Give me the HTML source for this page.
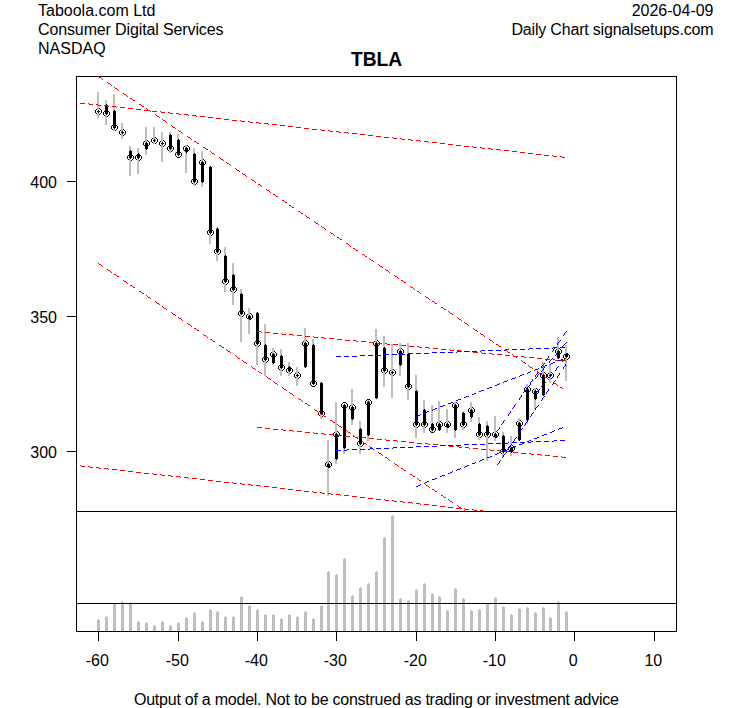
<!DOCTYPE html>
<html><head><meta charset="utf-8"><title>TBLA</title>
<style>
html,body{margin:0;padding:0;background:#fff;}
body{width:753px;height:708px;overflow:hidden;font-family:"Liberation Sans",sans-serif;}
svg{display:block;}
</style></head><body>
<svg width="753" height="708" viewBox="0 0 753 708" shape-rendering="crispEdges">
<defs><clipPath id="cm"><rect x="76" y="76" width="601" height="436"/></clipPath><clipPath id="cv"><rect x="77" y="512" width="599" height="119"/></clipPath><path id="ring" d="M2 0h3v1h-3zM1 1h1v1h-1zM5 1h1v1h-1zM0 2h1v3h-1zM6 2h1v3h-1zM1 5h1v1h-1zM5 5h1v1h-1zM2 6h3v1h-3z"/><path id="dot" d="M1 0h1v3h-1zM0 1h1v1h-1zM2 1h1v1h-1z"/></defs>
<rect x="76.5" y="76.5" width="600" height="435" fill="none" stroke="#000"/>
<g fill="#000">
<use href="#ring" x="95" y="108"/>
<use href="#ring" x="103" y="110"/>
<use href="#ring" x="111" y="124"/>
<use href="#ring" x="119" y="129"/>
<use href="#ring" x="127" y="154"/>
<use href="#ring" x="135" y="154"/>
<use href="#ring" x="143" y="140"/>
<use href="#ring" x="151" y="137"/>
<use href="#ring" x="159" y="140"/>
<use href="#ring" x="167" y="145"/>
<use href="#ring" x="175" y="151"/>
<use href="#ring" x="183" y="145"/>
<use href="#ring" x="191" y="178"/>
<use href="#ring" x="199" y="159"/>
<use href="#ring" x="207" y="229"/>
<use href="#ring" x="214" y="248"/>
<use href="#ring" x="222" y="278"/>
<use href="#ring" x="230" y="286"/>
<use href="#ring" x="238" y="310"/>
<use href="#ring" x="246" y="313"/>
<use href="#ring" x="254" y="340"/>
<use href="#ring" x="262" y="356"/>
<use href="#ring" x="270" y="351"/>
<use href="#ring" x="278" y="364"/>
<use href="#ring" x="286" y="367"/>
<use href="#ring" x="294" y="372"/>
<use href="#ring" x="302" y="340"/>
<use href="#ring" x="310" y="380"/>
<use href="#ring" x="318" y="410"/>
<use href="#ring" x="325" y="461"/>
<use href="#ring" x="333" y="431"/>
<use href="#ring" x="341" y="402"/>
<use href="#ring" x="349" y="404"/>
<use href="#ring" x="357" y="440"/>
<use href="#ring" x="365" y="399"/>
<use href="#ring" x="373" y="340"/>
<use href="#ring" x="381" y="367"/>
<use href="#ring" x="389" y="369"/>
<use href="#ring" x="397" y="348"/>
<use href="#ring" x="405" y="383"/>
<use href="#ring" x="413" y="421"/>
<use href="#ring" x="421" y="421"/>
<use href="#ring" x="429" y="426"/>
<use href="#ring" x="436" y="421"/>
<use href="#ring" x="444" y="421"/>
<use href="#ring" x="452" y="402"/>
<use href="#ring" x="460" y="421"/>
<use href="#ring" x="468" y="407"/>
<use href="#ring" x="476" y="431"/>
<use href="#ring" x="484" y="431"/>
<use href="#ring" x="492" y="431"/>
<use href="#ring" x="500" y="448"/>
<use href="#ring" x="508" y="445"/>
<use href="#ring" x="516" y="420"/>
<use href="#ring" x="524" y="386"/>
<use href="#ring" x="532" y="388"/>
<use href="#ring" x="540" y="372"/>
<use href="#ring" x="547" y="372"/>
<use href="#ring" x="555" y="348"/>
<use href="#ring" x="563" y="353"/>
</g>
<g fill="#bebebe">
<rect x="97" y="92" width="2" height="26"/>
<rect x="105" y="100" width="2" height="25"/>
<rect x="113" y="94" width="2" height="37"/>
<rect x="121" y="123" width="2" height="16"/>
<rect x="129" y="146" width="2" height="30"/>
<rect x="137" y="148" width="2" height="26"/>
<rect x="145" y="127" width="2" height="28"/>
<rect x="153" y="127" width="2" height="17"/>
<rect x="161" y="132" width="2" height="30"/>
<rect x="169" y="132" width="2" height="21"/>
<rect x="177" y="134" width="2" height="21"/>
<rect x="185" y="145" width="2" height="28"/>
<rect x="193" y="148" width="2" height="38"/>
<rect x="201" y="151" width="2" height="36"/>
<rect x="209" y="166" width="2" height="78"/>
<rect x="216" y="227" width="2" height="34"/>
<rect x="224" y="247" width="2" height="45"/>
<rect x="232" y="263" width="2" height="42"/>
<rect x="240" y="289" width="2" height="53"/>
<rect x="248" y="308" width="2" height="26"/>
<rect x="256" y="312" width="2" height="53"/>
<rect x="264" y="324" width="2" height="52"/>
<rect x="272" y="348" width="2" height="17"/>
<rect x="280" y="349" width="2" height="27"/>
<rect x="288" y="362" width="2" height="14"/>
<rect x="296" y="367" width="2" height="19"/>
<rect x="304" y="328" width="2" height="40"/>
<rect x="312" y="339" width="2" height="45"/>
<rect x="320" y="382" width="2" height="37"/>
<rect x="327" y="440" width="2" height="56"/>
<rect x="335" y="402" width="2" height="62"/>
<rect x="343" y="405" width="2" height="49"/>
<rect x="351" y="389" width="2" height="36"/>
<rect x="359" y="421" width="2" height="33"/>
<rect x="367" y="400" width="2" height="41"/>
<rect x="375" y="329" width="2" height="70"/>
<rect x="383" y="336" width="2" height="51"/>
<rect x="391" y="344" width="2" height="54"/>
<rect x="399" y="343" width="2" height="33"/>
<rect x="407" y="343" width="2" height="57"/>
<rect x="415" y="375" width="2" height="63"/>
<rect x="423" y="400" width="2" height="33"/>
<rect x="431" y="405" width="2" height="27"/>
<rect x="438" y="401" width="2" height="30"/>
<rect x="446" y="409" width="2" height="24"/>
<rect x="454" y="402" width="2" height="36"/>
<rect x="462" y="412" width="2" height="18"/>
<rect x="470" y="402" width="2" height="20"/>
<rect x="478" y="417" width="2" height="23"/>
<rect x="486" y="421" width="2" height="40"/>
<rect x="494" y="416" width="2" height="25"/>
<rect x="502" y="432" width="2" height="25"/>
<rect x="510" y="436" width="2" height="20"/>
<rect x="518" y="418" width="2" height="23"/>
<rect x="526" y="384" width="2" height="40"/>
<rect x="534" y="388" width="2" height="21"/>
<rect x="542" y="362" width="2" height="34"/>
<rect x="549" y="364" width="2" height="19"/>
<rect x="557" y="337" width="2" height="22"/>
<rect x="565" y="345" width="2" height="36"/>
</g>
<g fill="#000">
<use href="#dot" x="97" y="110"/>
<rect x="105" y="105" width="3" height="9"/>
<rect x="106" y="104" width="1" height="1"/>
<rect x="106" y="114" width="1" height="1"/>
<rect x="113" y="111" width="3" height="17"/>
<rect x="114" y="110" width="1" height="1"/>
<rect x="114" y="128" width="1" height="1"/>
<use href="#dot" x="121" y="131"/>
<rect x="129" y="151" width="3" height="7"/>
<rect x="130" y="150" width="1" height="1"/>
<rect x="130" y="158" width="1" height="1"/>
<rect x="137" y="154" width="3" height="4"/>
<rect x="138" y="153" width="1" height="1"/>
<rect x="138" y="158" width="1" height="1"/>
<rect x="145" y="143" width="3" height="6"/>
<rect x="146" y="149" width="1" height="1"/>
<rect x="146" y="142" width="1" height="1"/>
<use href="#dot" x="153" y="139"/>
<use href="#dot" x="161" y="142"/>
<rect x="169" y="135" width="3" height="14"/>
<rect x="170" y="134" width="1" height="1"/>
<rect x="170" y="149" width="1" height="1"/>
<rect x="177" y="140" width="3" height="15"/>
<rect x="178" y="139" width="1" height="1"/>
<rect x="178" y="155" width="1" height="1"/>
<rect x="185" y="148" width="3" height="4"/>
<rect x="186" y="152" width="1" height="1"/>
<rect x="186" y="147" width="1" height="1"/>
<rect x="193" y="154" width="3" height="28"/>
<rect x="194" y="153" width="1" height="1"/>
<rect x="194" y="182" width="1" height="1"/>
<rect x="201" y="162" width="3" height="20"/>
<rect x="202" y="182" width="1" height="1"/>
<rect x="202" y="161" width="1" height="1"/>
<rect x="209" y="167" width="3" height="66"/>
<rect x="210" y="166" width="1" height="1"/>
<rect x="210" y="233" width="1" height="1"/>
<rect x="216" y="229" width="3" height="23"/>
<rect x="217" y="228" width="1" height="1"/>
<rect x="217" y="252" width="1" height="1"/>
<rect x="224" y="256" width="3" height="26"/>
<rect x="225" y="255" width="1" height="1"/>
<rect x="225" y="282" width="1" height="1"/>
<rect x="232" y="275" width="3" height="15"/>
<rect x="233" y="274" width="1" height="1"/>
<rect x="233" y="290" width="1" height="1"/>
<rect x="240" y="294" width="3" height="20"/>
<rect x="241" y="293" width="1" height="1"/>
<rect x="241" y="314" width="1" height="1"/>
<rect x="248" y="316" width="3" height="3"/>
<rect x="249" y="319" width="1" height="1"/>
<rect x="249" y="315" width="1" height="1"/>
<rect x="256" y="313" width="3" height="31"/>
<rect x="257" y="312" width="1" height="1"/>
<rect x="257" y="344" width="1" height="1"/>
<rect x="264" y="345" width="3" height="15"/>
<rect x="265" y="344" width="1" height="1"/>
<rect x="265" y="360" width="1" height="1"/>
<rect x="272" y="354" width="3" height="9"/>
<rect x="273" y="363" width="1" height="1"/>
<rect x="273" y="353" width="1" height="1"/>
<rect x="280" y="356" width="3" height="12"/>
<rect x="281" y="355" width="1" height="1"/>
<rect x="281" y="368" width="1" height="1"/>
<rect x="288" y="367" width="3" height="4"/>
<rect x="289" y="366" width="1" height="1"/>
<rect x="289" y="371" width="1" height="1"/>
<use href="#dot" x="296" y="374"/>
<rect x="304" y="343" width="3" height="24"/>
<rect x="305" y="367" width="1" height="1"/>
<rect x="305" y="342" width="1" height="1"/>
<rect x="312" y="345" width="3" height="39"/>
<rect x="313" y="344" width="1" height="1"/>
<rect x="313" y="384" width="1" height="1"/>
<rect x="320" y="383" width="3" height="31"/>
<rect x="321" y="382" width="1" height="1"/>
<rect x="321" y="414" width="1" height="1"/>
<rect x="327" y="464" width="3" height="3"/>
<rect x="328" y="467" width="1" height="1"/>
<rect x="328" y="463" width="1" height="1"/>
<rect x="335" y="434" width="3" height="25"/>
<rect x="336" y="459" width="1" height="1"/>
<rect x="336" y="433" width="1" height="1"/>
<rect x="343" y="405" width="3" height="43"/>
<rect x="344" y="448" width="1" height="1"/>
<rect x="344" y="404" width="1" height="1"/>
<rect x="351" y="407" width="3" height="12"/>
<rect x="352" y="419" width="1" height="1"/>
<rect x="352" y="406" width="1" height="1"/>
<rect x="359" y="429" width="3" height="15"/>
<rect x="360" y="428" width="1" height="1"/>
<rect x="360" y="444" width="1" height="1"/>
<rect x="367" y="402" width="3" height="33"/>
<rect x="368" y="435" width="1" height="1"/>
<rect x="368" y="401" width="1" height="1"/>
<rect x="375" y="343" width="3" height="55"/>
<rect x="376" y="398" width="1" height="1"/>
<rect x="376" y="342" width="1" height="1"/>
<rect x="383" y="348" width="3" height="23"/>
<rect x="384" y="347" width="1" height="1"/>
<rect x="384" y="371" width="1" height="1"/>
<use href="#dot" x="391" y="371"/>
<rect x="399" y="351" width="3" height="14"/>
<rect x="400" y="365" width="1" height="1"/>
<rect x="400" y="350" width="1" height="1"/>
<rect x="407" y="354" width="3" height="33"/>
<rect x="408" y="353" width="1" height="1"/>
<rect x="408" y="387" width="1" height="1"/>
<rect x="415" y="391" width="3" height="34"/>
<rect x="416" y="390" width="1" height="1"/>
<rect x="416" y="425" width="1" height="1"/>
<rect x="423" y="410" width="3" height="15"/>
<rect x="424" y="409" width="1" height="1"/>
<rect x="424" y="425" width="1" height="1"/>
<rect x="431" y="424" width="3" height="6"/>
<rect x="432" y="423" width="1" height="1"/>
<rect x="432" y="430" width="1" height="1"/>
<rect x="438" y="424" width="3" height="6"/>
<rect x="439" y="430" width="1" height="1"/>
<rect x="439" y="423" width="1" height="1"/>
<rect x="446" y="424" width="3" height="3"/>
<rect x="447" y="427" width="1" height="1"/>
<rect x="447" y="423" width="1" height="1"/>
<rect x="454" y="405" width="3" height="25"/>
<rect x="455" y="430" width="1" height="1"/>
<rect x="455" y="404" width="1" height="1"/>
<rect x="462" y="413" width="3" height="12"/>
<rect x="463" y="412" width="1" height="1"/>
<rect x="463" y="425" width="1" height="1"/>
<rect x="470" y="410" width="3" height="7"/>
<rect x="471" y="417" width="1" height="1"/>
<rect x="471" y="409" width="1" height="1"/>
<rect x="478" y="424" width="3" height="11"/>
<rect x="479" y="423" width="1" height="1"/>
<rect x="479" y="435" width="1" height="1"/>
<rect x="486" y="426" width="3" height="9"/>
<rect x="487" y="425" width="1" height="1"/>
<rect x="487" y="435" width="1" height="1"/>
<rect x="494" y="434" width="3" height="3"/>
<rect x="495" y="437" width="1" height="1"/>
<rect x="495" y="433" width="1" height="1"/>
<rect x="502" y="436" width="3" height="16"/>
<rect x="503" y="435" width="1" height="1"/>
<rect x="503" y="452" width="1" height="1"/>
<rect x="510" y="448" width="3" height="4"/>
<rect x="511" y="452" width="1" height="1"/>
<rect x="511" y="447" width="1" height="1"/>
<rect x="518" y="423" width="3" height="17"/>
<rect x="519" y="440" width="1" height="1"/>
<rect x="519" y="422" width="1" height="1"/>
<rect x="526" y="389" width="3" height="31"/>
<rect x="527" y="420" width="1" height="1"/>
<rect x="527" y="388" width="1" height="1"/>
<rect x="534" y="391" width="3" height="8"/>
<rect x="535" y="399" width="1" height="1"/>
<rect x="535" y="390" width="1" height="1"/>
<rect x="542" y="375" width="3" height="20"/>
<rect x="543" y="395" width="1" height="1"/>
<rect x="543" y="374" width="1" height="1"/>
<use href="#dot" x="549" y="374"/>
<rect x="557" y="351" width="3" height="7"/>
<rect x="558" y="358" width="1" height="1"/>
<rect x="558" y="350" width="1" height="1"/>
<rect x="565" y="354" width="3" height="3"/>
<rect x="566" y="353" width="1" height="1"/>
<rect x="566" y="357" width="1" height="1"/>
</g>
<path fill="#ff0000" d="M98 76h1v1h-1zM99 77h2v1h-2zM101 78h1v1h-1zM102 79h1v1h-1zM107 82h1v1h-1zM108 83h2v1h-2zM110 84h1v1h-1zM111 85h1v1h-1zM114 87h1v1h-1zM115 88h2v1h-2zM117 89h1v1h-1zM118 90h1v1h-1zM123 93h1v1h-1zM124 94h2v1h-2zM126 95h1v1h-1zM127 96h1v1h-1zM130 98h2v1h-2zM132 99h1v1h-1zM133 100h2v1h-2zM76 102h1v1h-1zM80 103h5v1h-5zM88 103h1v1h-1zM89 104h4v1h-4zM96 104h2v1h-2zM139 104h2v1h-2zM98 105h3v1h-3zM104 105h3v1h-3zM141 105h1v1h-1zM107 106h2v1h-2zM112 106h4v1h-4zM142 106h2v1h-2zM116 107h1v1h-1zM120 107h5v1h-5zM128 108h5v1h-5zM146 108h1v1h-1zM136 109h5v1h-5zM147 109h1v1h-1zM144 110h6v1h-6zM150 111h1v1h-1zM152 111h5v1h-5zM160 111h1v1h-1zM161 112h4v1h-4zM168 112h2v1h-2zM170 113h3v1h-3zM176 113h3v1h-3zM155 114h1v1h-1zM179 114h2v1h-2zM184 114h4v1h-4zM156 115h1v1h-1zM188 115h1v1h-1zM192 115h4v1h-4zM157 116h2v1h-2zM196 116h1v1h-1zM200 116h5v1h-5zM159 117h1v1h-1zM208 117h5v1h-5zM216 118h5v1h-5zM162 119h1v1h-1zM224 119h5v1h-5zM163 120h2v1h-2zM232 120h5v1h-5zM240 120h1v1h-1zM165 121h1v1h-1zM241 121h4v1h-4zM248 121h2v1h-2zM166 122h1v1h-1zM250 122h3v1h-3zM256 122h3v1h-3zM259 123h2v1h-2zM264 123h4v1h-4zM268 124h1v1h-1zM272 124h5v1h-5zM171 125h1v1h-1zM280 125h5v1h-5zM172 126h1v1h-1zM288 126h5v1h-5zM173 127h2v1h-2zM296 127h5v1h-5zM175 128h1v1h-1zM304 128h5v1h-5zM312 129h5v1h-5zM320 129h1v1h-1zM178 130h1v1h-1zM321 130h4v1h-4zM328 130h2v1h-2zM179 131h2v1h-2zM330 131h3v1h-3zM336 131h3v1h-3zM181 132h1v1h-1zM339 132h2v1h-2zM344 132h4v1h-4zM182 133h1v1h-1zM348 133h1v1h-1zM352 133h5v1h-5zM360 134h5v1h-5zM368 135h5v1h-5zM187 136h1v1h-1zM376 136h5v1h-5zM188 137h2v1h-2zM384 137h5v1h-5zM392 137h1v1h-1zM190 138h1v1h-1zM393 138h4v1h-4zM400 138h2v1h-2zM191 139h1v1h-1zM402 139h3v1h-3zM408 139h3v1h-3zM411 140h2v1h-2zM416 140h4v1h-4zM194 141h2v1h-2zM420 141h1v1h-1zM424 141h4v1h-4zM196 142h1v1h-1zM428 142h1v1h-1zM432 142h5v1h-5zM197 143h2v1h-2zM440 143h5v1h-5zM448 144h5v1h-5zM456 145h5v1h-5zM464 146h5v1h-5zM472 146h1v1h-1zM203 147h2v1h-2zM473 147h4v1h-4zM480 147h2v1h-2zM205 148h1v1h-1zM482 148h3v1h-3zM488 148h3v1h-3zM206 149h2v1h-2zM491 149h2v1h-2zM496 149h4v1h-4zM500 150h1v1h-1zM504 150h5v1h-5zM210 151h1v1h-1zM512 151h5v1h-5zM211 152h1v1h-1zM520 152h5v1h-5zM212 153h2v1h-2zM528 153h5v1h-5zM214 154h1v1h-1zM536 154h5v1h-5zM544 155h5v1h-5zM552 155h1v1h-1zM553 156h4v1h-4zM560 156h2v1h-2zM219 157h1v1h-1zM562 157h3v1h-3zM220 158h1v1h-1zM221 159h2v1h-2zM223 160h1v1h-1zM226 162h1v1h-1zM227 163h2v1h-2zM229 164h1v1h-1zM230 165h1v1h-1zM235 168h1v1h-1zM236 169h1v1h-1zM237 170h2v1h-2zM239 171h1v1h-1zM242 173h1v1h-1zM243 174h2v1h-2zM245 175h1v1h-1zM246 176h1v1h-1zM251 179h1v1h-1zM252 180h2v1h-2zM254 181h1v1h-1zM255 182h1v1h-1zM258 184h2v1h-2zM260 185h1v1h-1zM261 186h1v1h-1zM266 189h1v1h-1zM267 190h2v1h-2zM269 191h1v1h-1zM270 192h1v1h-1zM273 194h2v1h-2zM275 195h1v1h-1zM276 196h2v1h-2zM282 200h2v1h-2zM284 201h1v1h-1zM285 202h2v1h-2zM289 205h2v1h-2zM291 206h1v1h-1zM292 207h2v1h-2zM298 211h2v1h-2zM300 212h1v1h-1zM301 213h2v1h-2zM305 215h1v1h-1zM306 216h1v1h-1zM307 217h2v1h-2zM309 218h1v1h-1zM314 221h1v1h-1zM315 222h1v1h-1zM316 223h2v1h-2zM318 224h1v1h-1zM321 226h1v1h-1zM322 227h2v1h-2zM324 228h1v1h-1zM325 229h1v1h-1zM330 232h1v1h-1zM331 233h2v1h-2zM333 234h1v1h-1zM334 235h1v1h-1zM337 237h2v1h-2zM339 238h1v1h-1zM340 239h2v1h-2zM346 243h2v1h-2zM348 244h1v1h-1zM349 245h1v1h-1zM350 246h1v1h-1zM353 248h2v1h-2zM355 249h1v1h-1zM356 250h2v1h-2zM362 254h2v1h-2zM364 255h1v1h-1zM365 256h2v1h-2zM369 258h1v1h-1zM370 259h1v1h-1zM371 260h2v1h-2zM373 261h1v1h-1zM98 263h1v1h-1zM99 264h2v1h-2zM378 264h1v1h-1zM101 265h1v1h-1zM379 265h1v1h-1zM102 266h1v1h-1zM380 266h2v1h-2zM382 267h1v1h-1zM107 269h1v1h-1zM385 269h1v1h-1zM108 270h2v1h-2zM386 270h2v1h-2zM110 271h1v1h-1zM388 271h1v1h-1zM111 272h1v1h-1zM389 272h1v1h-1zM114 274h2v1h-2zM116 275h1v1h-1zM394 275h1v1h-1zM117 276h2v1h-2zM395 276h2v1h-2zM397 277h1v1h-1zM398 278h1v1h-1zM123 280h1v1h-1zM401 280h2v1h-2zM124 281h2v1h-2zM403 281h1v1h-1zM126 282h1v1h-1zM404 282h2v1h-2zM127 283h1v1h-1zM130 285h2v1h-2zM132 286h1v1h-1zM410 286h1v1h-1zM133 287h2v1h-2zM411 287h2v1h-2zM413 288h1v1h-1zM414 289h1v1h-1zM139 291h2v1h-2zM417 291h2v1h-2zM141 292h1v1h-1zM419 292h1v1h-1zM142 293h2v1h-2zM420 293h1v1h-1zM146 295h1v1h-1zM147 296h1v1h-1zM425 296h1v1h-1zM148 297h2v1h-2zM426 297h2v1h-2zM150 298h1v1h-1zM428 298h1v1h-1zM429 299h1v1h-1zM155 301h1v1h-1zM432 301h2v1h-2zM156 302h1v1h-1zM434 302h1v1h-1zM157 303h2v1h-2zM435 303h2v1h-2zM159 304h1v1h-1zM162 306h1v1h-1zM163 307h1v1h-1zM441 307h2v1h-2zM164 308h2v1h-2zM443 308h1v1h-1zM166 309h1v1h-1zM444 309h2v1h-2zM448 311h1v1h-1zM171 312h1v1h-1zM449 312h1v1h-1zM172 313h1v1h-1zM450 313h2v1h-2zM173 314h2v1h-2zM452 314h1v1h-1zM175 315h1v1h-1zM178 317h1v1h-1zM457 317h1v1h-1zM179 318h2v1h-2zM458 318h1v1h-1zM181 319h1v1h-1zM459 319h2v1h-2zM182 320h1v1h-1zM461 320h1v1h-1zM464 322h1v1h-1zM187 323h1v1h-1zM465 323h2v1h-2zM188 324h2v1h-2zM467 324h1v1h-1zM190 325h1v1h-1zM468 325h1v1h-1zM191 326h1v1h-1zM194 328h2v1h-2zM473 328h1v1h-1zM196 329h1v1h-1zM474 329h1v1h-1zM197 330h2v1h-2zM475 330h2v1h-2zM257 331h4v1h-4zM477 331h1v1h-1zM261 332h1v1h-1zM265 332h5v1h-5zM273 333h5v1h-5zM281 333h1v1h-1zM480 333h1v1h-1zM203 334h1v1h-1zM282 334h4v1h-4zM289 334h4v1h-4zM481 334h2v1h-2zM204 335h2v1h-2zM293 335h1v1h-1zM297 335h5v1h-5zM483 335h1v1h-1zM206 336h1v1h-1zM305 336h5v1h-5zM313 336h1v1h-1zM484 336h1v1h-1zM207 337h1v1h-1zM314 337h4v1h-4zM321 337h3v1h-3zM324 338h2v1h-2zM329 338h5v1h-5zM210 339h2v1h-2zM337 339h5v1h-5zM489 339h1v1h-1zM212 340h1v1h-1zM345 340h5v1h-5zM353 340h3v1h-3zM490 340h2v1h-2zM213 341h2v1h-2zM356 341h2v1h-2zM361 341h5v1h-5zM492 341h1v1h-1zM369 342h5v1h-5zM493 342h1v1h-1zM377 343h5v1h-5zM385 343h2v1h-2zM387 344h3v1h-3zM393 344h5v1h-5zM496 344h2v1h-2zM219 345h2v1h-2zM401 345h5v1h-5zM498 345h1v1h-1zM221 346h1v1h-1zM409 346h5v1h-5zM417 346h2v1h-2zM499 346h2v1h-2zM222 347h2v1h-2zM419 347h3v1h-3zM425 347h4v1h-4zM429 348h1v1h-1zM433 348h5v1h-5zM226 349h1v1h-1zM441 349h5v1h-5zM449 349h1v1h-1zM227 350h1v1h-1zM450 350h4v1h-4zM457 350h4v1h-4zM505 350h2v1h-2zM228 351h2v1h-2zM461 351h1v1h-1zM465 351h5v1h-5zM507 351h1v1h-1zM230 352h1v1h-1zM473 352h5v1h-5zM481 352h1v1h-1zM508 352h2v1h-2zM482 353h4v1h-4zM489 353h3v1h-3zM492 354h2v1h-2zM497 354h5v1h-5zM512 354h1v1h-1zM235 355h1v1h-1zM505 355h5v1h-5zM513 355h1v1h-1zM236 356h1v1h-1zM513 356h5v1h-5zM521 356h3v1h-3zM237 357h1v1h-1zM516 357h1v1h-1zM524 357h2v1h-2zM529 357h5v1h-5zM238 358h2v1h-2zM537 358h5v1h-5zM545 359h5v1h-5zM553 359h2v1h-2zM242 360h1v1h-1zM521 360h1v1h-1zM555 360h3v1h-3zM561 360h5v1h-5zM243 361h1v1h-1zM522 361h1v1h-1zM244 362h2v1h-2zM523 362h2v1h-2zM246 363h1v1h-1zM525 363h1v1h-1zM528 365h1v1h-1zM251 366h1v1h-1zM529 366h1v1h-1zM252 367h1v1h-1zM530 367h2v1h-2zM253 368h2v1h-2zM532 368h1v1h-1zM255 369h1v1h-1zM258 371h1v1h-1zM537 371h1v1h-1zM259 372h2v1h-2zM538 372h1v1h-1zM261 373h1v1h-1zM539 373h2v1h-2zM541 374h1v1h-1zM266 376h1v1h-1zM544 376h1v1h-1zM267 377h1v1h-1zM545 377h2v1h-2zM268 378h2v1h-2zM547 378h1v1h-1zM270 379h1v1h-1zM548 379h1v1h-1zM273 381h1v1h-1zM274 382h1v1h-1zM553 382h1v1h-1zM275 383h2v1h-2zM554 383h2v1h-2zM277 384h1v1h-1zM556 384h1v1h-1zM557 385h1v1h-1zM282 387h1v1h-1zM560 387h2v1h-2zM283 388h1v1h-1zM562 388h1v1h-1zM284 389h2v1h-2zM286 390h1v1h-1zM289 392h1v1h-1zM290 393h2v1h-2zM292 394h1v1h-1zM293 395h1v1h-1zM298 398h1v1h-1zM299 399h2v1h-2zM301 400h1v1h-1zM302 401h1v1h-1zM305 403h2v1h-2zM307 404h1v1h-1zM308 405h2v1h-2zM314 409h1v1h-1zM315 410h2v1h-2zM317 411h1v1h-1zM318 412h1v1h-1zM321 414h2v1h-2zM323 415h1v1h-1zM324 416h2v1h-2zM330 420h2v1h-2zM332 421h1v1h-1zM333 422h2v1h-2zM337 424h1v1h-1zM338 425h1v1h-1zM339 426h2v1h-2zM257 427h5v1h-5zM341 427h1v1h-1zM265 428h5v1h-5zM273 429h5v1h-5zM281 429h2v1h-2zM283 430h3v1h-3zM289 430h4v1h-4zM346 430h1v1h-1zM293 431h1v1h-1zM297 431h5v1h-5zM347 431h1v1h-1zM305 432h5v1h-5zM313 432h1v1h-1zM348 432h2v1h-2zM314 433h4v1h-4zM321 433h3v1h-3zM350 433h1v1h-1zM324 434h2v1h-2zM329 434h5v1h-5zM337 435h5v1h-5zM353 435h1v1h-1zM345 436h5v1h-5zM353 436h2v1h-2zM355 437h3v1h-3zM361 437h5v1h-5zM357 438h1v1h-1zM369 438h5v1h-5zM377 439h5v1h-5zM385 439h1v1h-1zM386 440h4v1h-4zM393 440h4v1h-4zM362 441h1v1h-1zM397 441h1v1h-1zM401 441h5v1h-5zM363 442h1v1h-1zM409 442h5v1h-5zM364 443h2v1h-2zM417 443h5v1h-5zM425 443h3v1h-3zM366 444h1v1h-1zM428 444h2v1h-2zM433 444h5v1h-5zM441 445h5v1h-5zM369 446h1v1h-1zM449 446h5v1h-5zM457 446h2v1h-2zM370 447h2v1h-2zM459 447h3v1h-3zM465 447h4v1h-4zM372 448h1v1h-1zM469 448h1v1h-1zM473 448h5v1h-5zM373 449h1v1h-1zM481 449h5v1h-5zM489 449h1v1h-1zM490 450h4v1h-4zM497 450h3v1h-3zM500 451h2v1h-2zM505 451h5v1h-5zM378 452h1v1h-1zM513 452h5v1h-5zM379 453h2v1h-2zM521 453h5v1h-5zM529 453h2v1h-2zM381 454h1v1h-1zM531 454h3v1h-3zM537 454h4v1h-4zM382 455h1v1h-1zM541 455h1v1h-1zM545 455h5v1h-5zM553 456h5v1h-5zM561 456h1v1h-1zM385 457h2v1h-2zM562 457h4v1h-4zM387 458h1v1h-1zM388 459h1v1h-1zM389 460h1v1h-1zM394 463h1v1h-1zM395 464h2v1h-2zM76 465h1v1h-1zM80 465h1v1h-1zM397 465h1v1h-1zM81 466h4v1h-4zM88 466h2v1h-2zM398 466h1v1h-1zM90 467h3v1h-3zM96 467h3v1h-3zM99 468h2v1h-2zM104 468h4v1h-4zM401 468h2v1h-2zM108 469h1v1h-1zM112 469h5v1h-5zM403 469h1v1h-1zM120 470h5v1h-5zM404 470h2v1h-2zM128 471h5v1h-5zM136 472h5v1h-5zM144 473h5v1h-5zM152 473h1v1h-1zM153 474h4v1h-4zM160 474h2v1h-2zM410 474h2v1h-2zM162 475h3v1h-3zM168 475h3v1h-3zM412 475h1v1h-1zM171 476h2v1h-2zM176 476h4v1h-4zM413 476h2v1h-2zM180 477h1v1h-1zM184 477h4v1h-4zM188 478h1v1h-1zM192 478h5v1h-5zM417 478h1v1h-1zM200 479h5v1h-5zM418 479h1v1h-1zM208 480h5v1h-5zM419 480h2v1h-2zM216 481h5v1h-5zM224 482h5v1h-5zM232 482h1v1h-1zM233 483h4v1h-4zM240 483h2v1h-2zM242 484h3v1h-3zM248 484h3v1h-3zM425 484h1v1h-1zM251 485h2v1h-2zM256 485h4v1h-4zM426 485h2v1h-2zM260 486h1v1h-1zM264 486h5v1h-5zM428 486h1v1h-1zM272 487h5v1h-5zM429 487h1v1h-1zM280 488h5v1h-5zM288 489h5v1h-5zM432 489h2v1h-2zM296 490h5v1h-5zM434 490h1v1h-1zM304 491h5v1h-5zM312 491h1v1h-1zM435 491h2v1h-2zM313 492h4v1h-4zM320 492h2v1h-2zM322 493h3v1h-3zM328 493h3v1h-3zM331 494h2v1h-2zM336 494h4v1h-4zM340 495h1v1h-1zM344 495h5v1h-5zM441 495h2v1h-2zM352 496h5v1h-5zM443 496h1v1h-1zM360 497h5v1h-5zM444 497h2v1h-2zM368 498h5v1h-5zM376 499h5v1h-5zM384 499h1v1h-1zM448 499h1v1h-1zM385 500h4v1h-4zM392 500h2v1h-2zM449 500h1v1h-1zM394 501h3v1h-3zM400 501h3v1h-3zM450 501h2v1h-2zM403 502h2v1h-2zM408 502h4v1h-4zM452 502h1v1h-1zM412 503h1v1h-1zM416 503h4v1h-4zM420 504h1v1h-1zM424 504h5v1h-5zM432 505h5v1h-5zM457 505h1v1h-1zM440 506h5v1h-5zM458 506h1v1h-1zM448 507h5v1h-5zM459 507h2v1h-2zM456 508h6v1h-6zM464 508h1v1h-1zM465 509h4v1h-4zM472 509h2v1h-2zM464 510h1v1h-1zM474 510h3v1h-3zM480 510h3v1h-3z"/>
<path fill="#0000ff" d="M566 331h1v1h-1zM565 332h1v1h-1zM564 333h1v1h-1zM564 334h1v1h-1zM563 335h1v1h-1zM560 340h1v1h-1zM559 341h1v1h-1zM558 342h1v1h-1zM566 342h1v1h-1zM557 343h1v1h-1zM565 343h1v1h-1zM557 344h1v1h-1zM564 344h1v1h-1zM563 345h1v1h-1zM562 346h1v1h-1zM553 347h4v1h-4zM560 347h5v1h-5zM529 348h4v1h-4zM536 348h5v1h-5zM544 348h5v1h-5zM552 348h1v1h-1zM554 348h1v1h-1zM505 349h4v1h-4zM512 349h5v1h-5zM520 349h5v1h-5zM528 349h1v1h-1zM553 349h1v1h-1zM481 350h4v1h-4zM488 350h5v1h-5zM496 350h5v1h-5zM504 350h1v1h-1zM553 350h1v1h-1zM457 351h4v1h-4zM464 351h5v1h-5zM472 351h5v1h-5zM480 351h1v1h-1zM552 351h1v1h-1zM558 351h1v1h-1zM432 352h5v1h-5zM440 352h5v1h-5zM448 352h5v1h-5zM456 352h1v1h-1zM557 352h1v1h-1zM408 353h5v1h-5zM416 353h5v1h-5zM424 353h5v1h-5zM556 353h1v1h-1zM384 354h5v1h-5zM392 354h5v1h-5zM400 354h5v1h-5zM556 354h1v1h-1zM360 355h5v1h-5zM368 355h5v1h-5zM376 355h5v1h-5zM555 355h1v1h-1zM336 356h5v1h-5zM344 356h5v1h-5zM352 356h5v1h-5zM548 356h1v1h-1zM548 357h1v1h-1zM566 357h1v1h-1zM547 358h1v1h-1zM552 358h1v1h-1zM565 358h1v1h-1zM546 359h1v1h-1zM551 359h1v1h-1zM561 359h2v1h-2zM564 359h1v1h-1zM546 360h1v1h-1zM550 360h1v1h-1zM558 360h3v1h-3zM563 360h1v1h-1zM549 361h1v1h-1zM562 361h1v1h-1zM549 362h1v1h-1zM553 362h2v1h-2zM544 363h1v1h-1zM551 363h2v1h-2zM543 364h1v1h-1zM550 364h1v1h-1zM565 364h1v1h-1zM542 365h1v1h-1zM545 365h2v1h-2zM565 365h1v1h-1zM541 366h1v1h-1zM543 366h2v1h-2zM558 366h1v1h-1zM564 366h1v1h-1zM541 367h2v1h-2zM544 367h1v1h-1zM557 367h1v1h-1zM563 367h1v1h-1zM538 368h1v1h-1zM543 368h1v1h-1zM556 368h1v1h-1zM563 368h1v1h-1zM535 369h3v1h-3zM543 369h1v1h-1zM556 369h1v1h-1zM534 370h1v1h-1zM542 370h1v1h-1zM555 370h1v1h-1zM530 371h1v1h-1zM541 371h1v1h-1zM528 372h2v1h-2zM537 372h1v1h-1zM527 373h1v1h-1zM537 373h1v1h-1zM552 373h1v1h-1zM559 373h1v1h-1zM522 374h2v1h-2zM536 374h1v1h-1zM538 374h1v1h-1zM551 374h1v1h-1zM559 374h1v1h-1zM520 375h2v1h-2zM535 375h1v1h-1zM537 375h1v1h-1zM551 375h1v1h-1zM558 375h1v1h-1zM519 376h1v1h-1zM535 376h1v1h-1zM537 376h1v1h-1zM550 376h1v1h-1zM557 376h1v1h-1zM515 377h1v1h-1zM536 377h1v1h-1zM549 377h1v1h-1zM557 377h1v1h-1zM512 378h3v1h-3zM535 378h1v1h-1zM511 379h1v1h-1zM532 379h1v1h-1zM507 380h1v1h-1zM532 380h1v1h-1zM555 380h1v1h-1zM504 381h3v1h-3zM531 381h1v1h-1zM554 381h1v1h-1zM503 382h1v1h-1zM530 382h1v1h-1zM545 382h1v1h-1zM553 382h1v1h-1zM499 383h1v1h-1zM530 383h1v1h-1zM544 383h1v1h-1zM553 383h1v1h-1zM497 384h2v1h-2zM530 384h1v1h-1zM543 384h1v1h-1zM552 384h1v1h-1zM495 385h2v1h-2zM529 385h1v1h-1zM542 385h1v1h-1zM528 386h1v1h-1zM541 386h1v1h-1zM489 387h3v1h-3zM527 387h1v1h-1zM487 388h2v1h-2zM526 388h1v1h-1zM526 389h1v1h-1zM539 389h1v1h-1zM548 389h1v1h-1zM481 390h3v1h-3zM525 390h1v1h-1zM538 390h1v1h-1zM548 390h1v1h-1zM479 391h2v1h-2zM524 391h1v1h-1zM537 391h1v1h-1zM547 391h1v1h-1zM523 392h1v1h-1zM536 392h1v1h-1zM546 392h1v1h-1zM474 393h2v1h-2zM536 393h1v1h-1zM546 393h1v1h-1zM472 394h2v1h-2zM521 395h1v1h-1zM466 396h3v1h-3zM521 396h1v1h-1zM544 396h1v1h-1zM464 397h2v1h-2zM520 397h1v1h-1zM543 397h1v1h-1zM519 398h1v1h-1zM542 398h1v1h-1zM458 399h3v1h-3zM519 399h1v1h-1zM542 399h1v1h-1zM456 400h2v1h-2zM541 400h1v1h-1zM451 402h2v1h-2zM448 403h3v1h-3zM515 404h1v1h-1zM443 405h2v1h-2zM514 405h1v1h-1zM538 405h1v1h-1zM440 406h3v1h-3zM514 406h1v1h-1zM537 406h1v1h-1zM513 407h1v1h-1zM536 407h1v1h-1zM435 408h2v1h-2zM512 408h1v1h-1zM535 408h1v1h-1zM433 409h2v1h-2zM535 409h1v1h-1zM432 410h1v1h-1zM427 411h2v1h-2zM510 411h1v1h-1zM425 412h2v1h-2zM510 412h1v1h-1zM533 412h1v1h-1zM424 413h1v1h-1zM509 413h1v1h-1zM532 413h1v1h-1zM420 414h1v1h-1zM508 414h1v1h-1zM531 414h1v1h-1zM417 415h3v1h-3zM508 415h1v1h-1zM531 415h1v1h-1zM416 416h1v1h-1zM530 416h1v1h-1zM504 420h1v1h-1zM503 421h1v1h-1zM527 421h1v1h-1zM503 422h1v1h-1zM526 422h1v1h-1zM502 423h1v1h-1zM525 423h1v1h-1zM501 424h1v1h-1zM525 424h1v1h-1zM524 425h1v1h-1zM499 427h1v1h-1zM562 427h1v1h-1zM499 428h1v1h-1zM522 428h1v1h-1zM559 428h3v1h-3zM498 429h1v1h-1zM521 429h1v1h-1zM558 429h1v1h-1zM497 430h1v1h-1zM520 430h1v1h-1zM554 430h1v1h-1zM496 431h1v1h-1zM520 431h1v1h-1zM552 431h2v1h-2zM519 432h1v1h-1zM550 432h2v1h-2zM544 434h3v1h-3zM542 435h2v1h-2zM516 437h1v1h-1zM537 437h2v1h-2zM515 438h1v1h-1zM534 438h3v1h-3zM514 439h1v1h-1zM514 440h1v1h-1zM529 440h2v1h-2zM554 440h3v1h-3zM560 440h5v1h-5zM513 441h1v1h-1zM527 441h2v1h-2zM531 441h2v1h-2zM536 441h5v1h-5zM544 441h5v1h-5zM552 441h2v1h-2zM508 442h1v1h-1zM512 442h5v1h-5zM520 442h5v1h-5zM528 442h3v1h-3zM488 443h5v1h-5zM496 443h5v1h-5zM504 443h4v1h-4zM522 443h2v1h-2zM464 444h5v1h-5zM472 444h5v1h-5zM480 444h5v1h-5zM511 444h1v1h-1zM519 444h3v1h-3zM440 445h5v1h-5zM448 445h5v1h-5zM456 445h5v1h-5zM510 445h1v1h-1zM416 446h5v1h-5zM424 446h5v1h-5zM432 446h5v1h-5zM510 446h1v1h-1zM514 446h2v1h-2zM393 447h4v1h-4zM400 447h5v1h-5zM408 447h5v1h-5zM509 447h1v1h-1zM512 447h2v1h-2zM370 448h3v1h-3zM376 448h5v1h-5zM384 448h5v1h-5zM392 448h1v1h-1zM508 448h1v1h-1zM511 448h1v1h-1zM347 449h2v1h-2zM352 449h5v1h-5zM360 449h5v1h-5zM368 449h2v1h-2zM507 449h1v1h-1zM336 450h5v1h-5zM344 450h3v1h-3zM504 450h3v1h-3zM503 451h1v1h-1zM499 452h1v1h-1zM497 453h2v1h-2zM505 453h1v1h-1zM495 454h2v1h-2zM504 454h1v1h-1zM503 455h1v1h-1zM490 456h2v1h-2zM503 456h1v1h-1zM487 457h3v1h-3zM502 457h1v1h-1zM482 459h2v1h-2zM480 460h2v1h-2zM500 460h1v1h-1zM479 461h1v1h-1zM499 461h1v1h-1zM475 462h1v1h-1zM499 462h1v1h-1zM472 463h3v1h-3zM498 463h1v1h-1zM497 464h1v1h-1zM467 465h2v1h-2zM465 466h2v1h-2zM464 467h1v1h-1zM460 468h1v1h-1zM457 469h3v1h-3zM456 470h1v1h-1zM452 471h1v1h-1zM450 472h2v1h-2zM448 473h2v1h-2zM442 475h3v1h-3zM440 476h2v1h-2zM435 478h2v1h-2zM432 479h3v1h-3zM427 481h2v1h-2zM425 482h2v1h-2zM424 483h1v1h-1zM420 484h1v1h-1zM418 485h2v1h-2zM416 486h2v1h-2z"/>
<g fill="#bebebe" clip-path="url(#cv)">
<rect x="97" y="620" width="3" height="11"/>
<rect x="98" y="619" width="1" height="1"/>
<rect x="105" y="617" width="3" height="14"/>
<rect x="106" y="616" width="1" height="1"/>
<rect x="113" y="604" width="3" height="27"/>
<rect x="114" y="603" width="1" height="1"/>
<rect x="121" y="602" width="3" height="29"/>
<rect x="122" y="601" width="1" height="1"/>
<rect x="129" y="603" width="3" height="28"/>
<rect x="130" y="602" width="1" height="1"/>
<rect x="137" y="622" width="3" height="9"/>
<rect x="138" y="621" width="1" height="1"/>
<rect x="145" y="623" width="3" height="8"/>
<rect x="146" y="622" width="1" height="1"/>
<rect x="153" y="626" width="3" height="5"/>
<rect x="154" y="625" width="1" height="1"/>
<rect x="161" y="622" width="3" height="9"/>
<rect x="162" y="621" width="1" height="1"/>
<rect x="169" y="626" width="3" height="5"/>
<rect x="170" y="625" width="1" height="1"/>
<rect x="177" y="623" width="3" height="8"/>
<rect x="178" y="622" width="1" height="1"/>
<rect x="185" y="618" width="3" height="13"/>
<rect x="186" y="617" width="1" height="1"/>
<rect x="193" y="613" width="3" height="18"/>
<rect x="194" y="612" width="1" height="1"/>
<rect x="201" y="622" width="3" height="9"/>
<rect x="202" y="621" width="1" height="1"/>
<rect x="209" y="610" width="3" height="21"/>
<rect x="210" y="609" width="1" height="1"/>
<rect x="216" y="612" width="3" height="19"/>
<rect x="217" y="611" width="1" height="1"/>
<rect x="224" y="617" width="3" height="14"/>
<rect x="225" y="616" width="1" height="1"/>
<rect x="232" y="617" width="3" height="14"/>
<rect x="233" y="616" width="1" height="1"/>
<rect x="240" y="597" width="3" height="34"/>
<rect x="241" y="596" width="1" height="1"/>
<rect x="248" y="606" width="3" height="25"/>
<rect x="249" y="605" width="1" height="1"/>
<rect x="256" y="610" width="3" height="21"/>
<rect x="257" y="609" width="1" height="1"/>
<rect x="264" y="615" width="3" height="16"/>
<rect x="265" y="614" width="1" height="1"/>
<rect x="272" y="615" width="3" height="16"/>
<rect x="273" y="614" width="1" height="1"/>
<rect x="280" y="619" width="3" height="12"/>
<rect x="281" y="618" width="1" height="1"/>
<rect x="288" y="615" width="3" height="16"/>
<rect x="289" y="614" width="1" height="1"/>
<rect x="296" y="617" width="3" height="14"/>
<rect x="297" y="616" width="1" height="1"/>
<rect x="304" y="612" width="3" height="19"/>
<rect x="305" y="611" width="1" height="1"/>
<rect x="312" y="619" width="3" height="12"/>
<rect x="313" y="618" width="1" height="1"/>
<rect x="320" y="606" width="3" height="25"/>
<rect x="321" y="605" width="1" height="1"/>
<rect x="327" y="572" width="3" height="59"/>
<rect x="328" y="571" width="1" height="1"/>
<rect x="335" y="575" width="3" height="56"/>
<rect x="336" y="574" width="1" height="1"/>
<rect x="343" y="559" width="3" height="72"/>
<rect x="344" y="558" width="1" height="1"/>
<rect x="351" y="596" width="3" height="35"/>
<rect x="352" y="595" width="1" height="1"/>
<rect x="359" y="588" width="3" height="43"/>
<rect x="360" y="587" width="1" height="1"/>
<rect x="367" y="584" width="3" height="47"/>
<rect x="368" y="583" width="1" height="1"/>
<rect x="375" y="572" width="3" height="59"/>
<rect x="376" y="571" width="1" height="1"/>
<rect x="383" y="538" width="3" height="93"/>
<rect x="384" y="537" width="1" height="1"/>
<rect x="391" y="516" width="3" height="115"/>
<rect x="392" y="515" width="1" height="1"/>
<rect x="399" y="599" width="3" height="32"/>
<rect x="400" y="598" width="1" height="1"/>
<rect x="407" y="601" width="3" height="30"/>
<rect x="408" y="600" width="1" height="1"/>
<rect x="415" y="590" width="3" height="41"/>
<rect x="416" y="589" width="1" height="1"/>
<rect x="423" y="584" width="3" height="47"/>
<rect x="424" y="583" width="1" height="1"/>
<rect x="431" y="594" width="3" height="37"/>
<rect x="432" y="593" width="1" height="1"/>
<rect x="438" y="597" width="3" height="34"/>
<rect x="439" y="596" width="1" height="1"/>
<rect x="446" y="611" width="3" height="20"/>
<rect x="447" y="610" width="1" height="1"/>
<rect x="454" y="589" width="3" height="42"/>
<rect x="455" y="588" width="1" height="1"/>
<rect x="462" y="599" width="3" height="32"/>
<rect x="463" y="598" width="1" height="1"/>
<rect x="470" y="611" width="3" height="20"/>
<rect x="471" y="610" width="1" height="1"/>
<rect x="478" y="610" width="3" height="21"/>
<rect x="479" y="609" width="1" height="1"/>
<rect x="486" y="604" width="3" height="27"/>
<rect x="487" y="603" width="1" height="1"/>
<rect x="494" y="598" width="3" height="33"/>
<rect x="495" y="597" width="1" height="1"/>
<rect x="502" y="607" width="3" height="24"/>
<rect x="503" y="606" width="1" height="1"/>
<rect x="510" y="615" width="3" height="16"/>
<rect x="511" y="614" width="1" height="1"/>
<rect x="518" y="609" width="3" height="22"/>
<rect x="519" y="608" width="1" height="1"/>
<rect x="526" y="608" width="3" height="23"/>
<rect x="527" y="607" width="1" height="1"/>
<rect x="534" y="613" width="3" height="18"/>
<rect x="535" y="612" width="1" height="1"/>
<rect x="542" y="608" width="3" height="23"/>
<rect x="543" y="607" width="1" height="1"/>
<rect x="549" y="618" width="3" height="13"/>
<rect x="550" y="617" width="1" height="1"/>
<rect x="557" y="602" width="3" height="29"/>
<rect x="558" y="601" width="1" height="1"/>
<rect x="565" y="612" width="3" height="19"/>
<rect x="566" y="611" width="1" height="1"/>
</g>
<g stroke="#000" stroke-width="1" fill="none">
<rect x="76.5" y="511.5" width="600" height="120"/>
<line x1="76" y1="603.5" x2="677" y2="603.5"/>
<line x1="67" y1="181.5" x2="76" y2="181.5"/>
<line x1="67" y1="316.5" x2="76" y2="316.5"/>
<line x1="67" y1="451.5" x2="76" y2="451.5"/>
<line x1="98.5" y1="631" x2="98.5" y2="641"/>
<line x1="178.5" y1="631" x2="178.5" y2="641"/>
<line x1="257.5" y1="631" x2="257.5" y2="641"/>
<line x1="336.5" y1="631" x2="336.5" y2="641"/>
<line x1="416.5" y1="631" x2="416.5" y2="641"/>
<line x1="495.5" y1="631" x2="495.5" y2="641"/>
<line x1="574.5" y1="631" x2="574.5" y2="641"/>
<line x1="654.5" y1="631" x2="654.5" y2="641"/>
</g>
<g font-family="Liberation Sans, sans-serif" font-size="16" fill="#000">
<text x="38" y="15.5">Taboola.com Ltd</text>
<text x="38" y="34.5" textLength="185.5" lengthAdjust="spacing">Consumer Digital Services</text>
<text x="38" y="53.5">NASDAQ</text>
<text x="713.5" y="15.8" text-anchor="end">2026-04-09</text>
<text x="713.5" y="34.5" text-anchor="end" textLength="202" lengthAdjust="spacing">Daily Chart signalsetups.com</text>
<text transform="translate(376.5,65.7) scale(1,1.08)" text-anchor="middle" font-weight="bold" font-size="19.2">TBLA</text>
<text x="57" y="187.5" text-anchor="end">400</text>
<text x="57" y="322.5" text-anchor="end">350</text>
<text x="57" y="457.5" text-anchor="end">300</text>
<text x="97.3" y="665.6" text-anchor="middle">-60</text>
<text x="177.3" y="665.6" text-anchor="middle">-50</text>
<text x="256.3" y="665.6" text-anchor="middle">-40</text>
<text x="335.3" y="665.6" text-anchor="middle">-30</text>
<text x="415.3" y="665.6" text-anchor="middle">-20</text>
<text x="494.3" y="665.6" text-anchor="middle">-10</text>
<text x="573.3" y="665.6" text-anchor="middle">0</text>
<text x="653.3" y="665.6" text-anchor="middle">10</text>
<text x="376.5" y="705" text-anchor="middle" textLength="485" lengthAdjust="spacing">Output of a model. Not to be construed as trading or investment advice</text>
</g>
</svg>
</body></html>
